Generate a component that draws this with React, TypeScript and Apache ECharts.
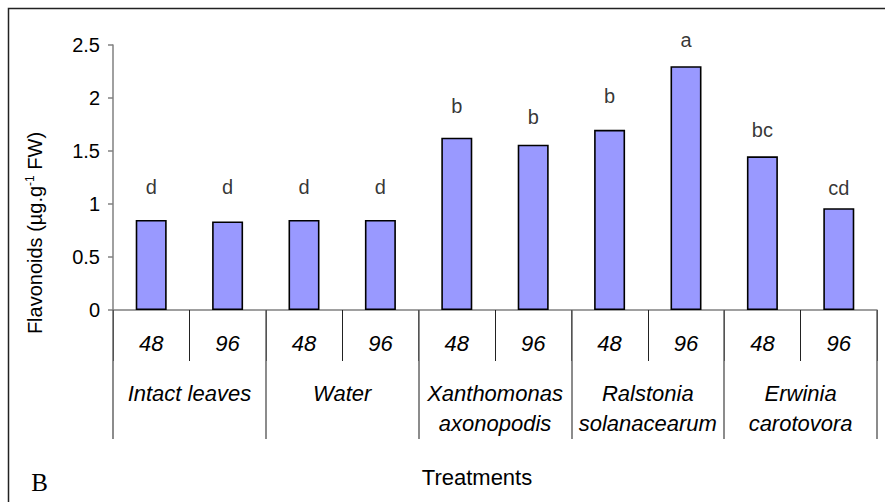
import React, { useEffect, useRef } from "react";
import * as echarts from "echarts";

const timeLabels = ["48", "96", "48", "96", "48", "96", "48", "96", "48", "96"];
const treatments = [
  "Intact leaves",
  "Water",
  "Xanthomonas\naxonopodis",
  "Ralstonia\nsolanacearum",
  "Erwinia\ncarotovora",
];
const flavonoids = [0.85, 0.835, 0.85, 0.85, 1.625, 1.56, 1.7, 2.3, 1.45, 0.96];
const letters = ["d", "d", "d", "d", "b", "b", "b", "a", "bc", "cd"];
const letterPos = [1.16, 1.16, 1.16, 1.16, 1.925, 1.82, 2.02, 2.55, 1.7, 1.155];
const yTicks = { min: 0, max: 2.5, interval: 0.5 };

const FONT = "Liberation Sans, Arial, sans-serif";

export default function App() {
  const ref = useRef<HTMLDivElement>(null);
  useEffect(() => {
    if (!ref.current) return;
    const chart = echarts.init(ref.current, undefined, { renderer: "svg" });
    chart.setOption({
      animation: false,
      grid: { left: 113, right: 8, top: 45, bottom: 192, containLabel: false },
      xAxis: [
        {
          type: "category",
          data: timeLabels,
          position: "bottom",
          axisLine: { show: true, lineStyle: { color: "#808080", width: 1.5 } },
          axisTick: { show: true, length: 51, interval: 0, lineStyle: { color: "#222", width: 1 } },
          axisLabel: {
            interval: 0,
            margin: 22,
            fontFamily: FONT,
            fontSize: 22,
            fontStyle: "italic",
            color: "#000",
            lineHeight: 22,
          },
        },
        {
          type: "category",
          data: treatments,
          position: "bottom",
          axisLine: { show: false },
          axisTick: { show: true, length: 129, interval: 0, lineStyle: { color: "#666", width: 1.5 } },
          axisLabel: {
            interval: 0,
            margin: 68,
            fontFamily: FONT,
            fontSize: 22,
            fontStyle: "italic",
            color: "#000",
            lineHeight: 30,
            verticalAlign: "top",
          },
        },
      ],
      yAxis: {
        type: "value",
        min: yTicks.min,
        max: yTicks.max,
        interval: yTicks.interval,
        splitLine: { show: false },
        axisLine: { show: true, lineStyle: { color: "#808080", width: 1.5 } },
        axisTick: { show: true, length: 5, inside: false, lineStyle: { color: "#808080", width: 1.5 } },
        axisLabel: { margin: 13, fontFamily: FONT, fontSize: 20, color: "#000" },
      },
      series: [
        {
          type: "bar",
          xAxisIndex: 0,
          data: flavonoids,
          barWidth: 31,
          itemStyle: { color: "#9999FF", borderColor: "#000", borderWidth: 1.6 },
        },
        {
          type: "scatter",
          xAxisIndex: 0,
          clip: false,
          data: letterPos.map((v, i) => [i, v]),
          symbolSize: 1,
          itemStyle: { color: "rgba(0,0,0,0)" },
          label: {
            show: true,
            position: "inside",
            formatter: (p: any) => letters[p.dataIndex],
            fontFamily: FONT,
            fontSize: 20,
            color: "#000",
          },
          silent: true,
        },
      ],
      graphic: [
        {
          type: "polyline",
          shape: { points: [[8.5, 502], [8.5, 8.5], [885, 8.5]] },
          style: { stroke: "#222", lineWidth: 1.5, fill: "none" },
        },
        {
          type: "text",
          x: 35,
          y: 233,
          rotation: Math.PI / 2,
          style: {
            text: "{a|Flavonoids (µg.g}{s|-1}{a| FW)}",
            align: "center",
            verticalAlign: "middle",
            rich: {
              a: { fontFamily: FONT, fontSize: 20, fill: "#000" } as any,
              s: { fontFamily: FONT, fontSize: 12, fill: "#000", verticalAlign: "top", padding: [0, 0, 10, 0] } as any,
            },
          },
        },
        {
          type: "text",
          x: 477,
          y: 477,
          style: {
            text: "Treatments",
            fontFamily: FONT,
            fontSize: 22,
            fill: "#000",
            align: "center",
            verticalAlign: "middle",
          },
        },
        {
          type: "text",
          x: 39.5,
          y: 482,
          style: {
            text: "B",
            fontFamily: "Liberation Serif, Times New Roman, serif",
            fontSize: 25,
            fill: "#000",
            align: "center",
            verticalAlign: "middle",
          },
        },
      ],
    });
    return () => chart.dispose();
  }, []);
  return (
    <div
      ref={ref}
      style={{ position: "absolute", left: 0, top: 0, width: 885, height: 502 }}
    />
  );
}
